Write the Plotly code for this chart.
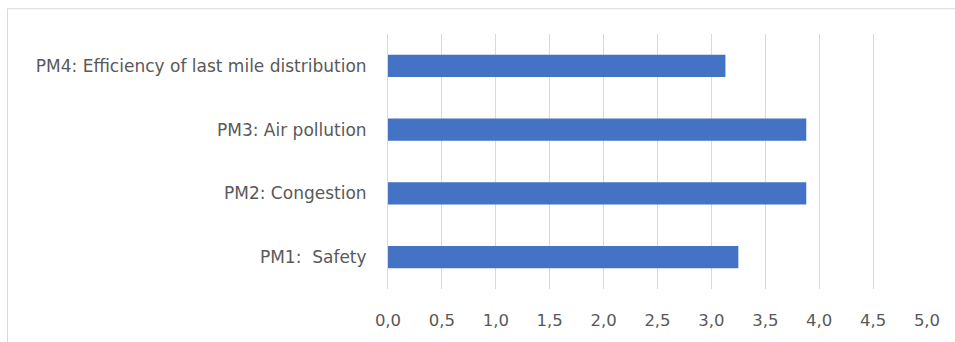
import plotly.graph_objects as go

categories = ["PM1:  Safety", "PM2: Congestion", "PM3: Air pollution",
              "PM4: Efficiency of last mile distribution"]
values = [3.25, 3.88, 3.88, 3.13]
x_ticks = [0, 0.5, 1.0, 1.5, 2.0, 2.5, 3.0, 3.5, 4.0, 4.5, 5.0]

W, H = 955, 342
L, R, T, B = 388, 927, 34, 291
pw, ph = R - L, B - T

fig = go.Figure(go.Bar(
    y=categories, x=values, orientation="h",
    marker=dict(color="#4472C4", line=dict(width=0)),
    width=0.35,
))

def px(xp):
    return (xp - L) / pw

def py(yp):
    return (B - yp) / ph

FONT = "DejaVu Sans, Liberation Sans, sans-serif"

fig.update_layout(
    width=W, height=H,
    margin=dict(l=L, r=W - R, t=T, b=H - B, pad=0),
    paper_bgcolor="white", plot_bgcolor="white",
    separators=",.",
    showlegend=False,
    font=dict(family=FONT, size=16, color="#595959"),
    xaxis=dict(range=[0, 5], tickvals=x_ticks, tickformat=".1f",
               showgrid=True, gridcolor="#d9d9d9", gridwidth=1,
               zeroline=False, showline=False, ticks="",
               ticklabelstandoff=19, tickfont=dict(family=FONT, size=16.5, color="#595959"),
               fixedrange=True),
    yaxis=dict(showgrid=False, zeroline=False, showline=True, linecolor="#d9d9d9",
               linewidth=1, ticks="", ticklabelstandoff=17,
               tickfont=dict(family=FONT, size=17, color="#595959"),
               range=[-0.5, 3.5], fixedrange=True),
    shapes=[
        dict(type="line", xref="paper", yref="paper",
             x0=px(7.5), x1=px(960), y0=py(8.5), y1=py(8.5),
             line=dict(color="#d9d9d9", width=1)),
        dict(type="line", xref="paper", yref="paper",
             x0=px(7.5), x1=px(7.5), y0=py(8.5), y1=py(350),
             line=dict(color="#d9d9d9", width=1)),
    ],
)

fig.write_html("out.html")
